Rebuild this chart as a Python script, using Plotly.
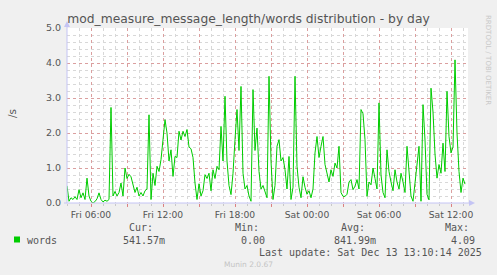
import plotly.graph_objects as go
import pandas as pd

# ---------------- data (10-minute samples) ----------------
series_start = "2025-12-12 04:00"
words_fri = [
    0.49, 0.05, 0.15, 0.10, 0.18, 0.10,   # 04h
    0.38, 0.15, 0.29, 0.10, 0.71, 0.20,   # 05h
    0.05, 0.00, 0.04, 0.12, 0.29, 0.10,   # 06h
    0.03, 0.08, 0.05, 0.10, 2.73, 0.20,   # 07h
    0.33, 0.20, 0.30, 0.57, 0.20, 1.00,   # 08h
    0.70, 0.82, 0.75, 0.55, 0.30, 0.45,   # 09h
    0.20, 0.30, 0.20, 0.35, 0.40, 2.52,   # 10h
    0.10, 0.85, 0.50, 1.05, 0.90, 1.24,   # 11h
    1.81, 2.38, 2.00, 1.20, 1.52, 0.76,   # 12h
    1.33, 1.30, 2.05, 1.80, 2.05, 1.90,   # 13h
    2.10, 1.60, 1.55, 1.30, 0.57, 0.10,   # 14h
    0.55, 0.20, 0.35, 0.81, 0.70, 0.85,   # 15h
    0.35, 0.95, 0.70, 1.05, 0.95, 2.19,   # 16h
    1.20, 3.05, 1.20, 0.50, 0.24, 0.85,   # 17h
    1.81, 2.67, 1.50, 3.33, 0.85, 0.40,   # 18h
    0.50, 0.20, 0.05, 3.24, 1.50, 2.14,   # 19h
    0.90, 0.40, 0.50, 0.30, 0.15, 3.62,   # 20h
    1.20, 0.10, 0.50, 1.62, 1.81, 1.20,   # 21h
    1.30, 0.95, 0.40, 1.33, 0.10, 0.45,   # 22h
    3.62, 1.05, 0.45, 0.15, 0.75, 0.45,   # 23h
]
words_sat = [
    0.25, 0.35, 0.15, 0.40, 1.43, 1.90,   # 00h
    1.30, 1.62, 1.90, 1.10, 0.80, 0.60,   # 01h
    0.95, 0.76, 1.14, 1.00, 1.62, 0.30,   # 02h
    0.19, 0.19, 0.25, 0.60, 0.67, 0.38,   # 03h
    0.48, 0.67, 0.40, 2.67, 2.55, 1.81,   # 04h
    0.19, 0.60, 0.52, 1.00, 0.70, 0.40,   # 05h
    2.86, 0.80, 0.30, 0.15, 1.52, 0.90,   # 06h
    0.60, 0.35, 0.95, 0.60, 0.40, 0.85,   # 07h
    0.60, 0.30, 1.62, 0.90, 0.20, 0.05,   # 08h
    0.60, 1.20, 1.62, 0.05, 2.81, 1.80,   # 09h
    0.25, 0.09, 3.28, 2.60, 1.40, 0.71,   # 10h
    1.10, 0.85, 1.71, 0.90, 3.19, 1.90,   # 11h
    1.43, 1.60, 4.09, 2.00, 0.90, 0.30,   # 12h
    0.71, 0.54,                           # 13h
]

x_range = ["2025-12-12 04:00", "2025-12-13 13:25"]
tick_times = ["2025-12-12 06:00", "2025-12-12 09:00", "2025-12-12 12:00", "2025-12-12 15:00",
              "2025-12-12 18:00", "2025-12-12 21:00", "2025-12-13 00:00", "2025-12-13 03:00",
              "2025-12-13 06:00", "2025-12-13 09:00", "2025-12-13 12:00"]
tick_labels = ["Fri 06:00", "", "Fri 12:00", "", "Fri 18:00", "", "Sat 00:00", "",
               "Sat 06:00", "", "Sat 12:00"]
y_ticks = [0, 1, 2, 3, 4, 5]
y_labels = ["0.0", "1.0", "2.0", "3.0", "4.0", "5.0"]

legend_name = "words"
stat_heads = ["Cur:", "Min:", "Avg:", "Max:"]
stat_vals = ["541.57m", "0.00", "841.99m", "4.09"]
last_update = "Last update: Sat Dec 13 13:10:14 2025"

# ---------------- figure ----------------
W, H = 497, 275
L, R, T, B = 67, 29, 28, 72
PW, PH = W - L - R, H - T - B


def px(x):
    return (x - L) / PW


def py(y):
    return (H - B - y) / PH


words = words_fri + words_sat
times = pd.date_range(series_start, periods=len(words), freq="10min")

GREEN = "#00CC00"
TXT = "#555555"
MONO = "DejaVu Sans Mono"
SANS = "DejaVu Sans"

fig = go.Figure()
fig.add_trace(go.Scatter(x=times, y=words, mode="lines",
                         line=dict(color=GREEN, width=1), showlegend=False,
                         hoverinfo="skip"))

fig.update_layout(
    width=W, height=H,
    margin=dict(l=L, r=R, t=T, b=B, pad=0),
    paper_bgcolor="#F0F0F0", plot_bgcolor="#FFFFFF",
    showlegend=False,
    title=dict(text="mod_measure_message_length/words distribution - by day",
               x=0.5, xref="container", xanchor="center",
               y=1 - 19 / H, yref="container", yanchor="middle",
               font=dict(family=SANS, size=12.3, color=TXT)),
    xaxis=dict(range=x_range, tickmode="array", tickvals=tick_times, ticktext=tick_labels,
               showgrid=True, gridcolor="rgba(220,140,140,0.75)", griddash="dot", gridwidth=1,
               ticks="outside", ticklen=3, tickcolor="rgba(220,120,120,0.9)",
               tickfont=dict(family=SANS, size=9.2, color=TXT),
               zeroline=False, showline=False, fixedrange=True,
               minor=dict(tickmode="linear", tick0="2025-12-12 04:00", dtick=3600000,
                          showgrid=True, gridcolor="#D8D8D8", griddash="dot", gridwidth=1,
                          ticks="outside", ticklen=2, tickcolor="#C8C8C8")),
    yaxis=dict(range=[0, 5], tickmode="array", tickvals=y_ticks, ticktext=y_labels,
               showgrid=True, gridcolor="rgba(220,140,140,0.75)", griddash="dot", gridwidth=1,
               ticks="", ticklabelstandoff=5,
               tickfont=dict(family=SANS, size=9.5, color=TXT),
               zeroline=False, showline=False, fixedrange=True,
               minor=dict(tickmode="linear", tick0=0, dtick=0.2,
                          showgrid=True, gridcolor="#D8D8D8", griddash="dot", gridwidth=1)),
)

AX = "#C4C4F4"
shapes = [
    # left axis with arrow
    dict(type="line", xref="paper", yref="paper", x0=px(67), x1=px(67), y0=py(203), y1=py(25),
         line=dict(color=AX, width=1)),
    dict(type="path", xref="paper", yref="paper",
         path=f"M {px(64)} {py(27)} L {px(70)} {py(27)} L {px(67)} {py(21)} Z",
         fillcolor=AX, line=dict(color=AX, width=0)),
    # bottom axis with arrow
    dict(type="line", xref="paper", yref="paper", x0=px(64), x1=px(470), y0=py(203), y1=py(203),
         line=dict(color=AX, width=1)),
    dict(type="path", xref="paper", yref="paper",
         path=f"M {px(469)} {py(200)} L {px(469)} {py(206)} L {px(475)} {py(203)} Z",
         fillcolor=AX, line=dict(color=AX, width=0)),
    # legend swatch
    dict(type="rect", xref="paper", yref="paper", x0=px(14), x1=px(20), y0=py(242.5), y1=py(236.5),
         fillcolor=GREEN, line=dict(width=0)),
]
fig.update_layout(shapes=shapes)


def ann(text, x, y, anchor="left", size=10, family=MONO, color=TXT, angle=0):
    fig.add_annotation(text=text, x=px(x), y=py(y), xref="paper", yref="paper",
                       xanchor=anchor, yanchor="middle", showarrow=False, textangle=angle,
                       font=dict(family=family, size=size, color=color))


ann("/s", 12, 114, anchor="center", size=10.5, family=SANS, angle=-90)
head_right = [155, 261, 367, 471]
val_right = [167, 267, 378, 477]
for h, hx in zip(stat_heads, head_right):
    ann(h, hx, 227, anchor="right")
ann(legend_name, 25, 240)
for v, vx in zip(stat_vals, val_right):
    ann(v, vx, 240, anchor="right")
ann(last_update, 484, 252.5, anchor="right")
ann("Munin 2.0.67", 248, 264, anchor="center", size=7.5, family=SANS, color="#C4C4C4")
ann("RRDTOOL / TOBI OETIKER", 488, 60, anchor="center", size=7, family=SANS,
    color="#C8C8C8", angle=90)

fig.write_html("out.html")
